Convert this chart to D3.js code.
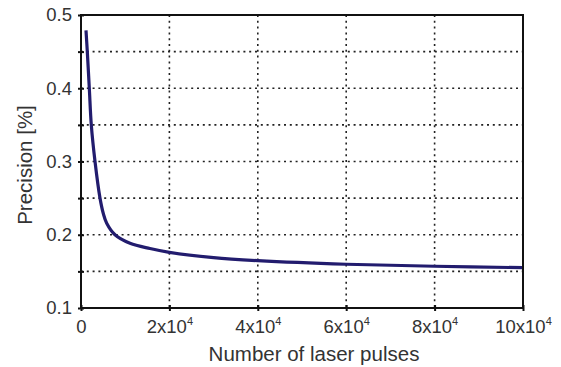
<!DOCTYPE html>
<meta charset="utf-8">
<head>
    <title>Precision vs number of laser pulses</title>
    <script src="https://cdn.jsdelivr.net/npm/d3@7"></script>
    <style>
        body { margin: 0; background: #fff; }
        text { font-family: "Liberation Sans", Arial, sans-serif; fill: #333; }
    </style>
</head>
<body>
<div id="chart"></div>
<script>
    // values
    const pulses    = [1130, 1425, 1880, 2330, 3170, 4300, 5045, 5815, 7690, 11085, 15610, 20000, 30000, 40000, 60000, 80000, 100000];
    const precision = [0.479, 0.45, 0.40, 0.35, 0.30, 0.25, 0.229, 0.2157, 0.20, 0.1884, 0.1812, 0.176, 0.1687, 0.1646, 0.1597, 0.157, 0.155];
    const xTicks = [0, 20000, 40000, 60000, 80000, 100000];
    const xTickMant = ["0", "2", "4", "6", "8", "10"];
    const yTicks = [0.1, 0.15, 0.2, 0.25, 0.3, 0.35, 0.4, 0.45, 0.5];

    const width = 561, height = 367;
    const margin = {top: 15, right: 38, bottom: 59, left: 81};
    const w = width - margin.left - margin.right;
    const h = height - margin.top - margin.bottom;

    const svg = d3.select("#chart").append("svg")
        .attr("width", width)
        .attr("height", height);
    const g = svg.append("g")
        .attr("transform", "translate(" + margin.left + "," + margin.top + ")");

    const x = d3.scaleLinear().domain([0, 100000]).range([0, w]);
    const y = d3.scaleLinear().domain([0.1, 0.5]).range([h, 0]);

    // dotted grid
    g.append("g").selectAll("line")
        .data(yTicks.filter(d => d > 0.1 && d < 0.5))
        .enter().append("line")
        .attr("x1", 0).attr("x2", w)
        .attr("y1", d => y(d)).attr("y2", d => y(d))
        .attr("stroke", "#222").attr("stroke-width", 1.6)
        .attr("stroke-dasharray", "2,3.8");
    g.append("g").selectAll("line")
        .data(xTicks.filter(d => d > 0 && d < 100000))
        .enter().append("line")
        .attr("y1", 0).attr("y2", h)
        .attr("x1", d => x(d)).attr("x2", d => x(d))
        .attr("stroke", "#222").attr("stroke-width", 1.6)
        .attr("stroke-dasharray", "2,3.8");

    // curve
    const line = d3.line()
        .x((d, i) => x(pulses[i]))
        .y(d => y(d))
        .curve(d3.curveCatmullRom.alpha(0.5));
    g.append("path")
        .datum(precision)
        .attr("d", line)
        .attr("fill", "none")
        .attr("stroke", "#221c6e")
        .attr("stroke-width", 3.2);

    // frame
    g.append("rect")
        .attr("width", w).attr("height", h)
        .attr("fill", "none").attr("stroke", "#111").attr("stroke-width", 2);

    // y axis
    const yAxis = g.append("g")
        .call(d3.axisLeft(y).tickValues(yTicks).tickSize(3).tickFormat(d => (Math.round(d * 100) % 10 === 0) ? d3.format(".1f")(d) : ""));
    yAxis.select(".domain").remove();
    yAxis.selectAll(".tick line").attr("stroke", "#111").attr("stroke-width", 2).attr("x2", 3).attr("x1", -3);
    yAxis.selectAll(".tick text").attr("x", -9).attr("font-size", 18.5).attr("fill", "#333");

    // x axis
    const xAxis = g.append("g")
        .attr("transform", "translate(0," + h + ")")
        .call(d3.axisBottom(x).tickValues(xTicks).tickSize(3).tickFormat(""));
    xAxis.select(".domain").remove();
    xAxis.selectAll(".tick line").attr("stroke", "#111").attr("stroke-width", 2).attr("y1", -3);
    xAxis.selectAll(".tick").each(function(d, i) {
        const t = d3.select(this).append("text")
            .attr("y", 25).attr("font-size", 18.5).attr("text-anchor", "middle").attr("fill", "#333");
        if (d === 0) {
            t.text("0");
        } else {
            t.append("tspan").text(xTickMant[i] + "x10");
            t.append("tspan").attr("dy", -8).attr("font-size", 11).text("4");
        }
    });

    // titles
    svg.append("text")
        .attr("x", 314)
        .attr("y", 361)
        .attr("text-anchor", "middle")
        .attr("font-size", 20.5)
        .text("Number of laser pulses");
    svg.append("text")
        .attr("transform", "translate(32,165) rotate(-90)")
        .attr("text-anchor", "middle")
        .attr("font-size", 20.5)
        .text("Precision [%]");
</script>
</body>
</html>
